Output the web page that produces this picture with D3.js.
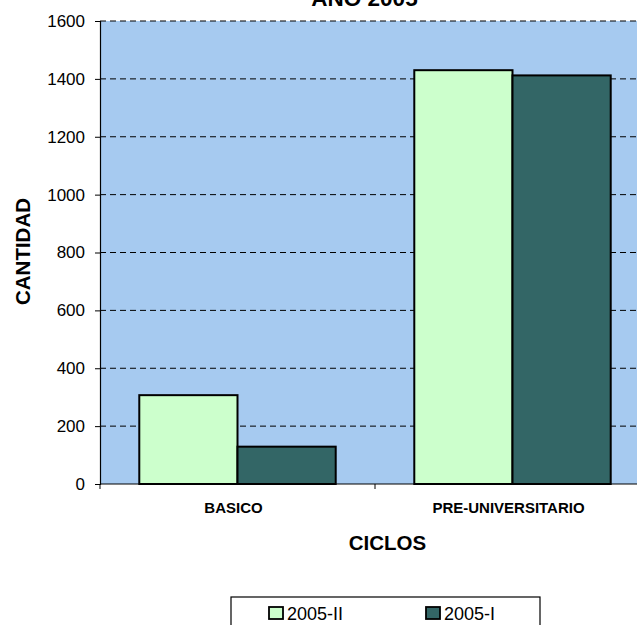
<!DOCTYPE html>
<html><head><meta charset="utf-8">
<script src="https://cdn.jsdelivr.net/npm/d3@7"></script>
<style>body{margin:0;background:#fff;}svg{display:block;font-family:Arial,"Liberation Sans",sans-serif;}</style>
</head><body><svg id="c" width="637" height="625"></svg>
<script>
const categories = ["BASICO", "PRE-UNIVERSITARIO"];
const seriesNames = ["2005-II", "2005-I"];
const values2005II = [307, 1430];
const values2005I = [129, 1412];
const yTicks = [0, 200, 400, 600, 800, 1000, 1200, 1400, 1600];
const colors = ["#CCFFCC", "#336666"];
const title = "AÑO 2005";
const xTitle = "CICLOS";
const yTitle = "CANTIDAD";

(function () {
const FONT = "Arial, 'Liberation Sans', sans-serif";
const svg = d3.select("#c");
const pLeft = 100, pRight = 650, pTop = 21, pBottom = 484;

svg.append("rect").attr("x", pLeft).attr("y", pTop).attr("width", pRight - pLeft).attr("height", pBottom - pTop).attr("fill", "#A6CAF0");

const x = d3.scaleBand().domain(categories).range([pLeft, pRight]).paddingInner(0).paddingOuter(0);
const y = d3.scaleLinear().domain([0, 1600]).range([pBottom, pTop]);
const inner = d3.scaleBand().domain(seriesNames).range([0, x.bandwidth()]).paddingInner(0).paddingOuter(0.4);

// gridlines
svg.append("g").selectAll("line").data(yTicks.filter(d => d > 0)).join("line")
  .attr("x1", pLeft).attr("x2", pRight).attr("y1", d => y(d)).attr("y2", d => y(d))
  .attr("stroke", "#000").attr("stroke-width", 1).attr("stroke-dasharray", "6,4");

// bars
const data = [values2005II, values2005I];
seriesNames.forEach((s, si) => {
  svg.append("g").selectAll("rect").data(categories).join("rect")
    .attr("x", c => x(c) + inner(s))
    .attr("y", (c, i) => y(data[si][i]))
    .attr("width", inner.bandwidth())
    .attr("height", (c, i) => pBottom - y(data[si][i]))
    .attr("fill", colors[si]).attr("stroke", "#000").attr("stroke-width", 2);
});

// y axis
const yAxis = d3.axisLeft(y).tickValues(yTicks).tickFormat(d3.format("d")).tickSize(5).tickPadding(10);
const gy = svg.append("g").attr("transform", `translate(${pLeft},0)`).call(yAxis);
gy.attr("font-size", null).attr("font-family", null);
gy.select(".domain").attr("stroke", "#000").attr("stroke-width", 1.2);
gy.selectAll(".tick line").attr("stroke", "#000");
gy.selectAll("text").attr("font-size", 17).attr("fill", "#000").attr("font-family", FONT);

// x axis
const gx = svg.append("g").attr("transform", `translate(0,${pBottom})`);
gx.append("line").attr("x1", pLeft).attr("x2", pRight).attr("y1", 0).attr("y2", 0).attr("stroke", "#000").attr("stroke-width", 1.2);
gx.selectAll("line.t").data([pLeft, pLeft + x.step(), pRight]).join("line").attr("class", "t")
  .attr("x1", d => d).attr("x2", d => d).attr("y1", 0).attr("y2", 5).attr("stroke", "#000");
gx.selectAll("text").data(categories).join("text")
  .attr("x", c => x(c) + x.bandwidth() / 2 - 4).attr("y", 29)
  .attr("text-anchor", "middle").attr("font-size", 15).attr("font-weight", "bold").text(c => c);

// titles
svg.append("text").attr("x", 364.5).attr("y", 6).attr("text-anchor", "middle").attr("font-size", 22.5).attr("font-weight", "bold").text(title);
svg.append("text").attr("x", 387.5).attr("y", 550).attr("text-anchor", "middle").attr("font-size", 20.5).attr("font-weight", "bold").text(xTitle);
svg.append("text").attr("transform", "translate(30,251.5) rotate(-90)").attr("text-anchor", "middle").attr("font-size", 20.5).attr("font-weight", "bold").text(yTitle);

// legend
const lg = svg.append("g");
lg.append("rect").attr("x", 231).attr("y", 597).attr("width", 309).attr("height", 40).attr("fill", "#fff").attr("stroke", "#000").attr("stroke-width", 1.2);
const lx = [269, 426];
seriesNames.forEach((s, i) => {
  lg.append("rect").attr("x", lx[i]).attr("y", 607).attr("width", 14).attr("height", 12).attr("fill", colors[i]).attr("stroke", "#000").attr("stroke-width", 1.8);
  lg.append("text").attr("x", lx[i] + 18).attr("y", 619.5).attr("font-size", 18).text(s);
});
})();
</script></body></html>
